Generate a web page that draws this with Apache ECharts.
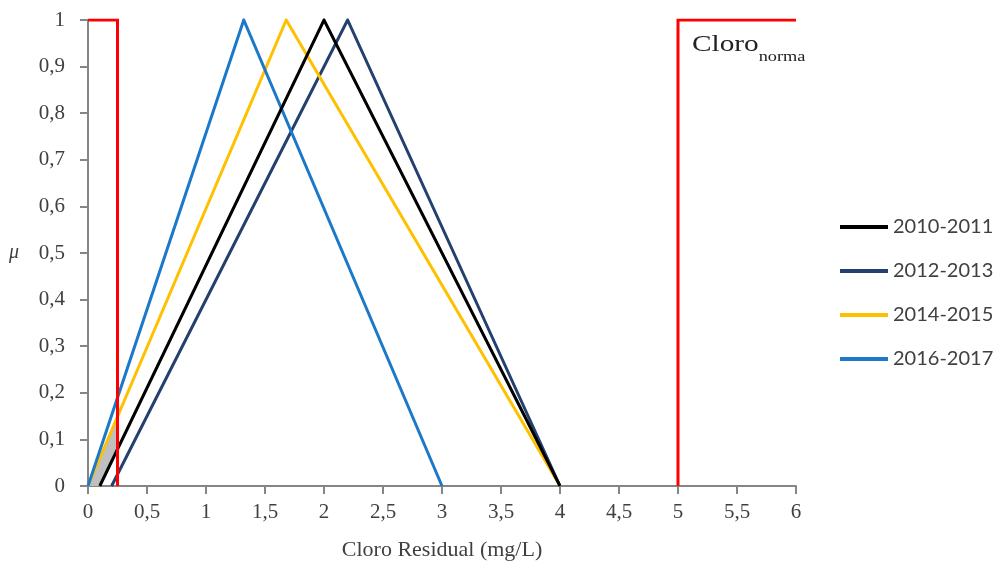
<!DOCTYPE html>
<html>
<head>
<meta charset="utf-8">
<script src="https://cdn.jsdelivr.net/npm/echarts@6/dist/echarts.min.js"></script>
<style>
  html, body { margin: 0; padding: 0; background: #ffffff; }
  #chart { width: 1002px; height: 568px; }
</style>
</head>
<body>
<div id="chart"></div>
<script>
// Fuzzy membership functions for residual chlorine, by period (x in mg/L, y = μ)
const xTicks = [0, 0.5, 1, 1.5, 2, 2.5, 3, 3.5, 4, 4.5, 5, 5.5, 6];
const yTicks = [0, 0.1, 0.2, 0.3, 0.4, 0.5, 0.6, 0.7, 0.8, 0.9, 1];

const s2010 = [[0.1, 0], [2.0, 1], [4.0, 0]];
const s2012 = [[0.2, 0], [2.2, 1], [4.0, 0]];
const s2014 = [[0.0, 0], [1.68, 1], [4.0, 0]];
const s2016 = [[0.0, 0], [1.32, 1], [3.0, 0]];

// Standard limits (0.25 – 5 mg/L)
const normaLow = [[0, 1], [0.25, 1], [0.25, 0]];
const normaHigh = [[5, 0], [5, 1], [6, 1]];

// Overlap region below the lower limit
const shaded = [[0, 0], [0.25, 0.149], [0.25, 0.079], [0.1, 0]];

const fmt = v => String(v).replace('.', ',');
const serif = 'Liberation Serif';
const txt = '#404040';

const chart = echarts.init(document.getElementById('chart'));

function lineSeries(name, data, color, z) {
  return {
    name, type: 'line', data, color, z: z || 3,
    symbol: 'none', animation: false,
    lineStyle: { width: 3, color, join: 'miter' }
  };
}

chart.setOption({
  animation: false,
  grid: { left: 88, right: 206, top: 20, bottom: 82 },
  xAxis: {
    type: 'value', min: 0, max: 6, interval: 0.5,
    name: 'Cloro Residual (mg/L)', nameLocation: 'middle', nameGap: 53,
    nameTextStyle: { fontFamily: serif, fontSize: 22, color: txt },
    axisLine: { show: true, lineStyle: { color: '#868686', width: 2 } },
    axisTick: { show: true, length: 8, lineStyle: { color: '#868686', width: 2 } },
    axisLabel: { fontFamily: serif, fontSize: 21, color: txt, margin: 16, formatter: fmt },
    splitLine: { show: false }
  },
  yAxis: {
    type: 'value', min: 0, max: 1, interval: 0.1,
    name: 'μ', nameLocation: 'middle', nameGap: 69, nameRotate: 0,
    nameTextStyle: { fontFamily: serif, fontSize: 20, fontStyle: 'italic', color: txt },
    axisLine: { show: true, lineStyle: { color: '#868686', width: 2 } },
    axisTick: { show: true, length: 8, lineStyle: { color: '#868686', width: 2 } },
    axisLabel: { fontFamily: serif, fontSize: 21, color: txt, margin: 23,
      formatter: v => fmt(Math.round(v * 10) / 10) },
    splitLine: { show: false }
  },
  legend: {
    data: ['2010-2011', '2012-2013', '2014-2015', '2016-2017'],
    orient: 'vertical', left: 840, top: 217, itemGap: 24, padding: 0,
    itemWidth: 48, itemHeight: 4, icon: 'rect',
    textStyle: { fontFamily: 'Lato', fontSize: 20, color: txt }
  },
  graphic: [{
    type: 'text', left: 692, top: 33, scaleX: 1.22,
    style: {
      text: '{a|Cloro}{b|norma}',
      rich: {
        a: { fontFamily: serif, fontSize: 24, fill: '#222', verticalAlign: 'bottom' },
        b: { fontFamily: serif, fontSize: 15, fill: '#222', verticalAlign: 'bottom', padding: [0, 0, -8, 0] }
      }
    }
  }],
  series: [
    {
      name: 'shaded', type: 'custom', data: [0], z: 1, silent: true,
      renderItem: (params, api) => ({
        type: 'polygon',
        shape: { points: shaded.map(p => api.coord(p)) },
        style: { fill: '#BFBFBF' }
      })
    },
    lineSeries('2010-2011', s2010, '#000000', 4),
    lineSeries('2012-2013', s2012, '#24406F', 3),
    lineSeries('2014-2015', s2014, '#FFC000', 3),
    lineSeries('2016-2017', s2016, '#1C78C8', 3),
    lineSeries('normaLow', normaLow, '#FF0000', 5),
    lineSeries('normaHigh', normaHigh, '#FF0000', 5)
  ]
});
</script>
</body>
</html>
